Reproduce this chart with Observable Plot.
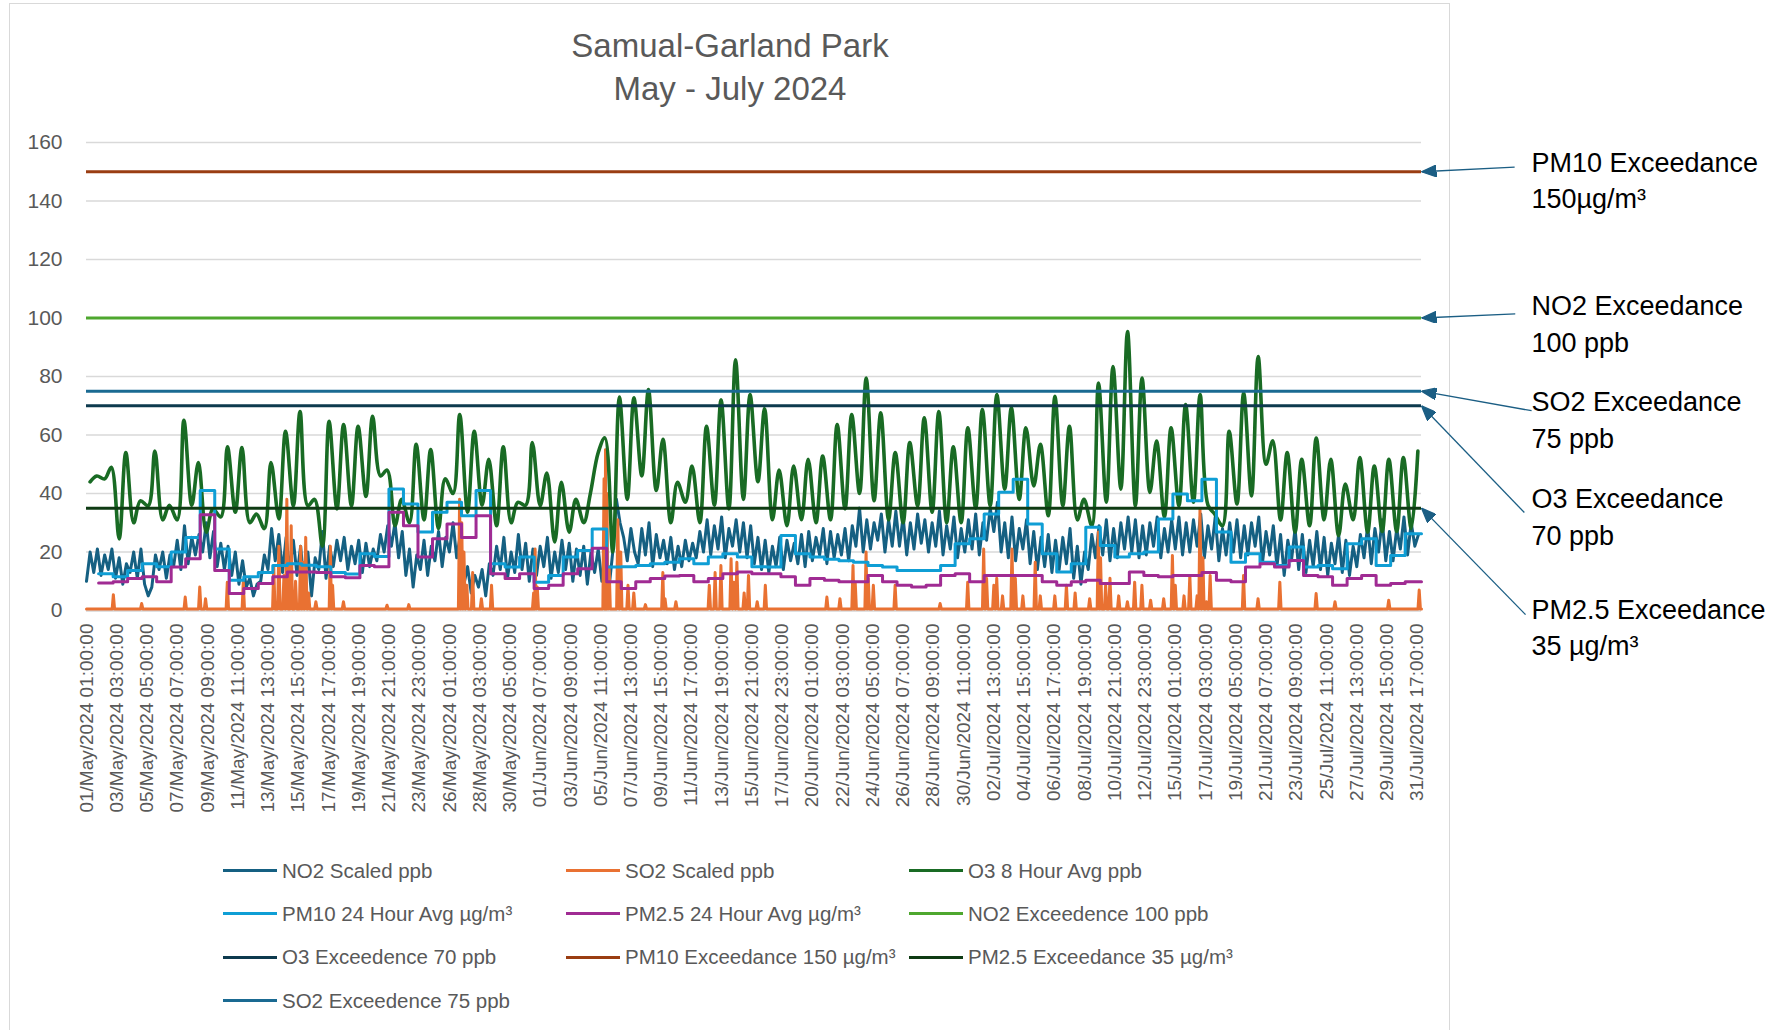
<!DOCTYPE html>
<html><head><meta charset="utf-8">
<script src="https://cdn.jsdelivr.net/npm/d3@7"></script>
<script src="https://cdn.jsdelivr.net/npm/@observablehq/plot@0.6"></script>
<style>
html,body{margin:0;padding:0;background:#fff;}
#wrap{position:relative;width:1792px;height:1030px;overflow:hidden;font-family:'Liberation Sans',Arial,sans-serif;}
#frame{position:absolute;left:9px;top:3px;width:1441px;height:1060px;border:1.5px solid #d9d9d9;box-sizing:border-box;}
#title{position:absolute;left:330px;width:800px;top:24px;text-align:center;color:#595959;font-size:33px;line-height:43px;}
#plot{position:absolute;left:0;top:0;}
.lg{position:absolute;display:flex;align-items:center;height:26px;color:#595959;font-size:20.5px;white-space:nowrap;}
.lg .sw{display:inline-block;width:54px;height:3px;margin-right:5px;}
</style></head>
<body><div id="wrap"><div id="frame"></div><div id="plot"></div>
<div id="title">Samual-Garland Park<br>May - July 2024</div>
<div id="legend"></div></div>
<script>
// ---------- data ----------
const startLabel = "01/May/2024 01:00:00";
const endLabel = "01/Aug/2024 00:00:00";
const xTickLabels = [
 "01/May/2024 01:00:00","03/May/2024 03:00:00","05/May/2024 05:00:00","07/May/2024 07:00:00","09/May/2024 09:00:00",
 "11/May/2024 11:00:00","13/May/2024 13:00:00","15/May/2024 15:00:00","17/May/2024 17:00:00","19/May/2024 19:00:00",
 "21/May/2024 21:00:00","23/May/2024 23:00:00","26/May/2024 01:00:00","28/May/2024 03:00:00","30/May/2024 05:00:00",
 "01/Jun/2024 07:00:00","03/Jun/2024 09:00:00","05/Jun/2024 11:00:00","07/Jun/2024 13:00:00","09/Jun/2024 15:00:00",
 "11/Jun/2024 17:00:00","13/Jun/2024 19:00:00","15/Jun/2024 21:00:00","17/Jun/2024 23:00:00","20/Jun/2024 01:00:00",
 "22/Jun/2024 03:00:00","24/Jun/2024 05:00:00","26/Jun/2024 07:00:00","28/Jun/2024 09:00:00","30/Jun/2024 11:00:00",
 "02/Jul/2024 13:00:00","04/Jul/2024 15:00:00","06/Jul/2024 17:00:00","08/Jul/2024 19:00:00","10/Jul/2024 21:00:00",
 "12/Jul/2024 23:00:00","15/Jul/2024 01:00:00","17/Jul/2024 03:00:00","19/Jul/2024 05:00:00","21/Jul/2024 07:00:00",
 "23/Jul/2024 09:00:00","25/Jul/2024 11:00:00","27/Jul/2024 13:00:00","29/Jul/2024 15:00:00","31/Jul/2024 17:00:00"];
const yTicks = [0,20,40,60,80,100,120,140,160];

// NO2 scaled ppb, readings every 6 hours (01,07,13,19h), one row per day
const no2 = [
10,20,13,21, 12,19,14,21, 11,18,9,16, 13,20,11,21, 9,5,8,19, 14,20,11,19, 15,24,14,29, 16,25,19,26,
20,30,18,27, 15,23,14,22, 12,20,9,17, 8,11,5,9, 10,19,14,28, 17,26,13,25, 14,24,12,22, 8,20,5,18,
14,27,11,22, 15,24,17,25, 14,22,16,24, 13,23,15,21, 17,26,20,29, 22,30,18,27, 12,21,8,19, 14,24,12,22,
17,27,15,25, 20,30,18,26, 9,15,6,12, 8,14,5,16, 12,22,14,25, 11,20,13,26, 14,23,10,21, 12,22,15,25,
11,20,13,24, 14,23,10,21, 12,22,9,20, 13,21,10,18, 8,20,38,30, 25,17,28,20, 16,28,19,30, 15,26,18,24,
16,25,14,22, 15,24,17,23, 18,27,20,31, 19,29,21,32, 18,28,22,31, 20,30,18,29, 16,25,14,24, 13,22,15,25,
14,24,17,23, 16,26,15,27, 17,25,19,28, 16,27,18,26, 19,28,17,29, 22,35,20,31, 21,30,24,33, 20,31,22,34,
22,32,19,30, 21,33,23,31, 20,30,22,34, 19,29,21,32, 18,28,20,31, 21,33,19,30, 24,35,27,37, 20,30,18,32,
17,28,21,31, 16,27,14,25, 15,26,13,24, 14,25,16,28, 11,22,9,20, 14,26,18,29, 19,31,17,28, 18,30,21,32,
20,31,18,29, 19,30,22,32, 18,28,20,31, 21,32,19,30, 20,31,22,33, 18,29,21,32, 17,28,19,30, 20,31,18,29,
19,30,22,32, 16,27,19,29, 15,26,12,24, 17,28,14,26, 13,24,15,27, 14,25,12,23, 16,26,13,24, 12,22,15,26,
18,29,16,28, 20,31,17,27, 17,28,21,32, 19,30,22,26];

// SO2 scaled ppb: spikes [days after start, value]; baseline near zero elsewhere
const so2Baseline = 0.5;
const so2Spikes = [
[1.85,5.4],[3.8,2.4],[6.8,4.6],[7.8,8],[8.2,4],[9.7,9.7],[10.8,9.7],[12.9,14.9],[13.25,22],[13.6,12],[13.8,38],[14.1,29],[14.4,10],
[14.75,22],[14.9,16.5],[15.1,25],[15.3,6],[15.8,3],[16.8,22],[16.95,8.6],[17.7,3],[20.7,1.8],[22.2,2],
[25.7,38],[25.85,30],[26.0,20],[26.2,8.6],[26.6,13],[27.2,4],[27.9,8.6],[30.8,6],[30.9,21],[31.05,8],
[35.65,45],[35.75,55],[35.85,40],[36.0,15],[36.6,31],[36.8,20],[37.3,8.6],[37.7,6],[38.5,2],[39.7,13],[39.85,4],[40.6,3],
[42.9,8.6],[43.3,13],[43.7,15.4],[44.4,17.7],[44.6,9.7],[44.8,16.5],[45.3,6],[45.6,12],[46.2,3],
[46.76,8.6],[51.0,4.6],[51.9,4],[52.8,15.4],[52.95,9.7],[53.7,20],[53.85,11],[54.2,8.6],[55.7,8.6],[58.8,2.4],
[60.7,9.7],[61.8,21],[62.0,11],[62.5,8.6],[62.7,11],[63.1,5],[63.75,21],[63.98,11],[64.5,5],[65.35,16.5],[65.7,5],
[66.7,5],[67.5,8.6],[68.1,6],[69.1,4],[69.7,26.8],[69.85,18],[70.2,8.6],[70.5,11],[71.1,5],[71.7,3],[72.2,9.7],
[72.7,8.6],[73.3,3.5],[74.2,4],[74.8,18.8],[75.0,8.6],[75.6,5],[76.0,12],[76.5,5],[76.7,34.7],[76.9,18],
[77.15,3],[77.4,12],[79.7,12],[80.7,4],[82.2,9.7],[84.7,5.8],[86.0,3],[89.7,3.5],[91.8,7]];

// O3 8 hour avg ppb: reading at 07:00 and at 18:00 of each day
const o3Morning = [44,45,24.5,30,35.8,31,31,36,26.8,32,33.6,30,28,31.3,35.8,35.8,22,34.7,35.8,39,46,29,30,31,28,40,33.6,36,29,30,36,
35.8,23.4,26.8,30,54,20,38,46,41,30,37,30,36,34.7,38,44,31,29,31,30,31,34.7,40,37.5,31,30,35.8,33.6,30,30,
35,35.8,41.5,38,42.6,32.4,35.8,31,29,37,41.5,35.8,40.4,32,35.8,37,36,29,36.4,39.2,50,31,26.8,29,31,25.6,31,26.8,27,27,28];
const o3Evening = [46,49,54,37.5,54.5,36,65,50.6,34.7,56,55.7,33,50.6,61.3,68,38,64.7,63.6,63,66.4,48,38,56.8,55,45,67,61.3,51.7,56,37,57.4,
47,43.8,38,40,59,73,72.7,75.5,58.5,43.8,49.4,63,72,85.7,73.8,69,48,49.4,51.7,52.8,63.6,67,79.5,67.6,54,57.4,65.9,68,56,62.5,
68.7,73.8,69.3,62.5,56.8,73.2,63,38,77.8,83.4,95.4,79.5,57.9,62.5,70.4,73.8,33,61.3,74.4,86.8,58,54,51.7,59,51.7,43.2,52.3,49.4,51.7,52.3,54.5];

// 24-hour averages, one value per day from day 2 (02 May) to day 92 (31 Jul)
const pm10 = [12.6,11.5,13.7,16,15,20,25,41,21,10.3,11.5,13,15.4,16,15.5,15,13,12.5,19.4,18.5,41.5,36.4,26.8,33.6,37,32.4,41,16,14.9,18.3,
9.7,12,18.3,20.5,27.9,14.9,15,15.4,16,16.5,17.7,16,18.3,19.4,18.3,15,14.9,25.6,19.4,18.3,17.5,17,16.5,15.4,14.9,13.7,13.7,13.7,15.4,22.8,24.5,
33,40.4,44.9,29.6,19.4,13.2,16,28.5,22.2,18.3,19.4,20,31.3,39.8,37.5,44.9,26.8,16.5,19.4,16.5,15.4,21.7,14.9,15.4,14.3,22.8,24.5,15.4,18.8,26.2];
const pm25 = [9.4,9.8,10.9,11.5,9.8,14.9,17.7,32.7,13.7,5.8,7.5,9.2,11.5,13.2,13.2,13,11.5,11.2,15.4,15,33.6,29,18.3,24.5,29.6,25,32.4,12.6,10.9,12.6,
7.5,8.6,12.6,14.3,21.3,9.8,7.5,9.8,10.9,11.8,12,9.8,10.9,12.6,13.2,12.6,12.6,11.5,8.6,10.9,10.3,9.8,9.8,12,9.8,8.6,8,8.6,12,12.6,9.8,
12,12,12,12,9.8,8.6,9.8,10.3,9.2,9.2,13.2,12,11.5,12,12,13,10.3,9.8,14.9,16,14.9,17.1,12,11.5,8.6,10.9,12,8.6,9.2,9.8];

const thresholds = [
 {name:"NO2 Exceedence 100 ppb", value:100, color:"#4EA72E"},
 {name:"O3 Exceedence 70 ppb", value:70, color:"#0D3A4E"},
 {name:"PM10 Exceedance 150 µg/m³", value:150, color:"#9A3D12"},
 {name:"PM2.5 Exceedance 35 µg/m³", value:35, color:"#0E3B13"},
 {name:"SO2 Exceedence 75 ppb", value:75, color:"#1A6A92"}];

const annotations = [
 {label:"PM10 Exceedance", sub:"150µg/m³", threshold:150, labelY:153, subY:140.4, tailY:151.6, tailH:154},
 {label:"NO2 Exceedance", sub:"100 ppb", threshold:100, labelY:104, subY:91.4, tailY:101.4, tailH:155},
 {label:"SO2 Exceedance", sub:"75 ppb", threshold:75, labelY:71, subY:58.4, tailY:68.3, tailH:182},
 {label:"O3 Exceedance", sub:"70 ppb", threshold:70, labelY:38, subY:25.4, tailY:33.5, tailH:170},
 {label:"PM2.5 Exceedance", sub:"35 µg/m³", threshold:35, labelY:0.2, subY:-12.4, tailY:-1.4, tailH:172}];

const legendItems = [
 ["NO2 Scaled ppb","#156082"],["SO2 Scaled ppb","#E97132"],["O3 8 Hour Avg ppb","#196B24"],
 ["PM10 24 Hour Avg µg/m³","#0F9ED5"],["PM2.5 24 Hour Avg µg/m³","#A02B93"],["NO2 Exceedence 100 ppb","#4EA72E"],
 ["O3 Exceedence 70 ppb","#0D3A4E"],["PM10 Exceedance 150 µg/m³","#9A3D12"],["PM2.5 Exceedance 35 µg/m³","#0E3B13"],
 ["SO2 Exceedence 75 ppb","#1A6A92"]];

// ---------- build ----------
const parse = d3.utcParse("%d/%b/%Y %H:%M:%S");
const fmt = d3.utcFormat("%d/%b/%Y %H:%M:%S");
const t0 = parse(startLabel).getTime(), tEnd = parse(endLabel);
const HR = 3600e3;
const xTicks = xTickLabels.map(parse);

const no2Pts = no2.map((v,i)=>({t:new Date(t0+i*6*HR), v}));
const o3Pts = [];
o3Morning.forEach((v,d)=>{o3Pts.push({t:new Date(t0+(d*24+6)*HR), v}); o3Pts.push({t:new Date(t0+(d*24+17)*HR), v:o3Evening[d]});});
const stepPts = arr => { const p = arr.map((v,i)=>({t:new Date(t0+((i+1)*24-4)*HR), v})); p.push({t:tEnd, v:arr[arr.length-1]}); return p; };
const pm10Pts = stepPts(pm10), pm25Pts = stepPts(pm25);
let so2Pts = [{t:t0, v:so2Baseline}];
so2Spikes.forEach(([d,v])=>{const t=t0+d*24*HR; so2Pts.push({t:t-2*HR,v:so2Baseline},{t,v},{t:t+2*HR,v:so2Baseline});});
so2Pts.push({t:tEnd.getTime(), v:so2Baseline});
so2Pts.sort((a,b)=>a.t-b.t);
so2Pts = so2Pts.map(p=>({t:new Date(p.t), v:p.v}));

function filledArrow(color){
  const ns="http://www.w3.org/2000/svg";
  const m=document.createElementNS(ns,"marker");
  m.setAttribute("viewBox","-15 -6 15 12"); m.setAttribute("markerWidth","15"); m.setAttribute("markerHeight","12");
  m.setAttribute("refX","0"); m.setAttribute("refY","0"); m.setAttribute("orient","auto"); m.setAttribute("markerUnits","userSpaceOnUse");
  const p=document.createElementNS(ns,"path"); p.setAttribute("d","M-15,-6L0,0L-15,6Z"); p.setAttribute("fill",color);
  m.appendChild(p); return m;
}

const H = 850;
const chart = Plot.plot({
  width:1792, height:H, marginLeft:86, marginRight:371, marginTop:142, marginBottom:H-610,
  style:{fontFamily:"'Liberation Sans', Arial, sans-serif", background:"transparent", overflow:"visible"},
  x:{type:"utc", domain:[new Date(t0), tEnd], label:null},
  y:{domain:[0,160], label:null},
  marks:[
    Plot.gridY(yTicks,{stroke:"#d9d9d9", strokeOpacity:1, strokeWidth:1.3}),
    Plot.ruleY([0],{stroke:"#d9d9d9", strokeWidth:2.5}),
    Plot.axisY(yTicks,{tickSize:0, tickPadding:24, fontSize:21, color:"#595959", label:null}),
    Plot.axisX(xTicks,{tickFormat:fmt, tickRotate:-90, tickSize:0, tickPadding:13, fontSize:19, color:"#595959", label:null}),
    Plot.line(no2Pts,{x:"t", y:"v", stroke:"#156082", strokeWidth:3}),
    Plot.line(so2Pts,{x:"t", y:"v", stroke:"#E97132", strokeWidth:3}),
    Plot.line(o3Pts,{x:"t", y:"v", stroke:"#196B24", strokeWidth:3.6, curve:"catmull-rom"}),
    Plot.line(pm10Pts,{x:"t", y:"v", stroke:"#0F9ED5", strokeWidth:3, curve:"step-after"}),
    Plot.line(pm25Pts,{x:"t", y:"v", stroke:"#A02B93", strokeWidth:3, curve:"step-after"}),
    ...thresholds.map(th=>Plot.ruleY([th.value],{stroke:th.color, strokeWidth:3})),
    Plot.link(annotations,{x1:d=>new Date(tEnd.getTime()+d.tailH*HR), y1:"tailY", x2:()=>tEnd, y2:"threshold",
      stroke:"#1B5E84", strokeWidth:1.3, markerEnd:filledArrow}),
    Plot.text(annotations,{x:()=>tEnd, y:"labelY", text:"label", dx:110, textAnchor:"start", lineAnchor:"middle",
      fontSize:27, fill:"#000", fontFamily:"'Liberation Sans', Arial, sans-serif"}),
    Plot.text(annotations,{x:()=>tEnd, y:"subY", text:"sub", dx:110, textAnchor:"start", lineAnchor:"middle",
      fontSize:27, fill:"#000", fontFamily:"'Liberation Sans', Arial, sans-serif"})
  ]
});
document.getElementById("plot").appendChild(chart);

// legend (HTML, below the plot area)
const cols=[223,566,909], rows=[870.5,913.5,957,1000.5];
const lg=document.getElementById("legend");
legendItems.forEach(([name,color],i)=>{
  const el=document.createElement("div"); el.className="lg";
  el.style.left=cols[i%3]+"px"; el.style.top=(rows[Math.floor(i/3)]-13)+"px";
  el.innerHTML=`<span class="sw" style="background:${color}"></span><span>${name}</span>`;
  lg.appendChild(el);
});
</script></body></html>
